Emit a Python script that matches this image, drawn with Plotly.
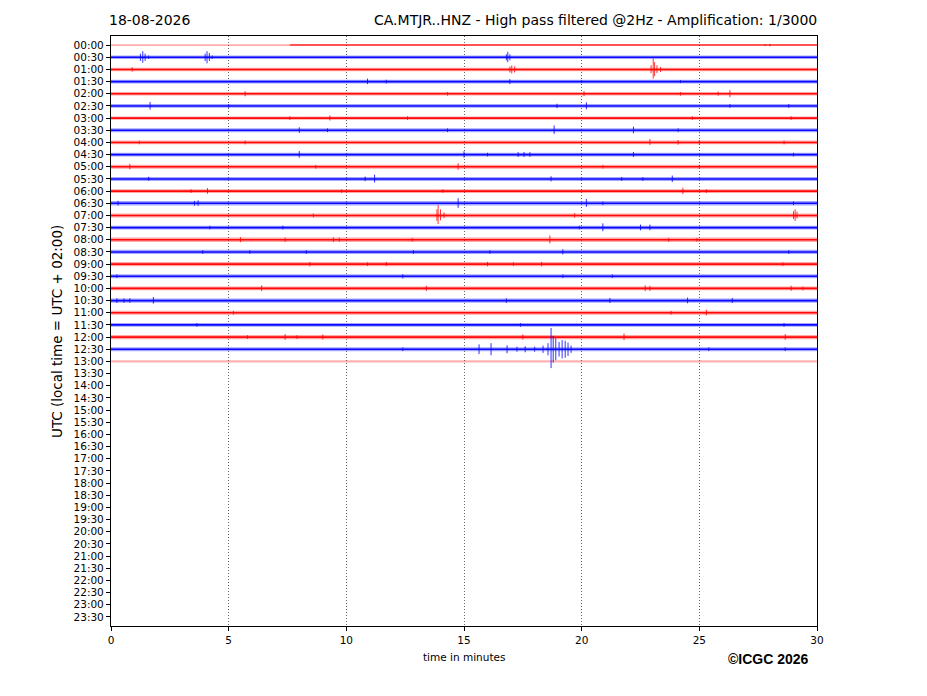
import plotly.graph_objects as go

# helicorder CA.MTJR..HNZ, one row per 30 minutes
ROW_LABELS = [
    "00:00", "00:30", "01:00", "01:30", "02:00", "02:30", "03:00", "03:30",
    "04:00", "04:30", "05:00", "05:30", "06:00", "06:30", "07:00", "07:30",
    "08:00", "08:30", "09:00", "09:30", "10:00", "10:30", "11:00", "11:30",
    "12:00", "12:30", "13:00", "13:30", "14:00", "14:30", "15:00", "15:30",
    "16:00", "16:30", "17:00", "17:30", "18:00", "18:30", "19:00", "19:30",
    "20:00", "20:30", "21:00", "21:30", "22:00", "22:30", "23:00", "23:30",
]
X_TICKS = [0, 5, 10, 15, 20, 25, 30]

# background noise segments: row, start minute, end minute, half amplitude (row units)
NOISE_ROW = [0, 0] + list(range(1, 26)) + [26]
NOISE_START = [0.0, 7.6] + [0.0] * 25 + [0.0]
NOISE_END = [7.6, 30.0] + [30.0] * 25 + [30.0]
NOISE_AMP = [0.04, 0.07] + [0.15, 0.15, 0.15, 0.15, 0.15, 0.14, 0.16, 0.15, 0.16,
                            0.16, 0.16, 0.16, 0.18, 0.16, 0.16, 0.18, 0.17, 0.18,
                            0.17, 0.16, 0.18, 0.16, 0.16, 0.17, 0.17] + [0.06]

# transient spikes per row: (minute, up, down) in row units
SPIKES = [
    [(27.8, 0.08, 0.08), (28.0, 0.1, 0.1)],
    [(1.25, 0.3, 0.3), (1.35, 0.5, 0.45), (1.45, 0.3, 0.3), (1.6, 0.15, 0.15),
     (4.0, 0.3, 0.3), (4.08, 0.5, 0.5), (4.18, 0.35, 0.3), (4.3, 0.15, 0.15),
     (16.8, 0.25, 0.25), (16.86, 0.45, 0.4), (16.95, 0.25, 0.25)],
    [(0.9, 0.18, 0.18), (16.95, 0.25, 0.25), (17.03, 0.33, 0.33), (17.15, 0.25, 0.25),
     (22.95, 0.35, 0.3), (23.04, 0.9, 0.75), (23.1, 0.6, 0.55), (23.2, 0.35, 0.3),
     (23.35, 0.2, 0.2)],
    [(10.9, 0.25, 0.2), (11.7, 0.15, 0.15), (16.95, 0.2, 0.2), (20.0, 0.12, 0.12),
     (24.2, 0.12, 0.12)],
    [(5.7, 0.22, 0.2), (14.3, 0.15, 0.15), (20.1, 0.22, 0.2), (24.2, 0.15, 0.15),
     (25.8, 0.18, 0.15), (26.3, 0.3, 0.28)],
    [(1.66, 0.33, 0.3), (5.0, 0.15, 0.15), (18.95, 0.18, 0.18), (20.2, 0.3, 0.28),
     (26.3, 0.15, 0.15), (28.8, 0.15, 0.15)],
    [(7.6, 0.15, 0.15), (9.3, 0.22, 0.2), (12.6, 0.15, 0.15), (24.7, 0.15, 0.15),
     (28.9, 0.15, 0.15)],
    [(8.0, 0.25, 0.22), (9.2, 0.15, 0.15), (14.3, 0.15, 0.15), (18.83, 0.4, 0.3),
     (22.2, 0.3, 0.25), (24.1, 0.15, 0.15)],
    [(1.2, 0.15, 0.15), (5.7, 0.15, 0.15), (22.9, 0.28, 0.2), (24.1, 0.2, 0.18),
     (25.0, 0.2, 0.18), (28.6, 0.15, 0.15)],
    [(8.0, 0.3, 0.25), (15.0, 0.28, 0.25), (16.0, 0.15, 0.15), (17.3, 0.2, 0.2),
     (17.55, 0.22, 0.2), (17.8, 0.2, 0.18), (22.2, 0.22, 0.2), (29.0, 0.15, 0.15)],
    [(0.8, 0.25, 0.22), (8.7, 0.15, 0.15), (14.75, 0.28, 0.25), (20.9, 0.15, 0.15),
     (25.0, 0.15, 0.15)],
    [(1.6, 0.18, 0.15), (10.8, 0.2, 0.18), (11.2, 0.35, 0.3), (18.7, 0.22, 0.2),
     (21.7, 0.15, 0.15), (22.6, 0.15, 0.15), (23.85, 0.28, 0.25)],
    [(3.4, 0.15, 0.15), (4.1, 0.25, 0.22), (9.8, 0.15, 0.15), (14.1, 0.15, 0.15),
     (24.3, 0.28, 0.25), (25.3, 0.15, 0.15)],
    [(0.3, 0.2, 0.18), (3.55, 0.2, 0.2), (3.7, 0.25, 0.22), (14.75, 0.42, 0.38),
     (20.2, 0.35, 0.3), (20.9, 0.15, 0.15), (29.0, 0.15, 0.15)],
    [(8.6, 0.15, 0.15), (13.85, 0.5, 0.45), (13.9, 0.85, 0.7), (14.0, 0.5, 0.4),
     (14.15, 0.25, 0.22), (19.7, 0.18, 0.18), (29.0, 0.35, 0.3), (29.07, 0.5, 0.45),
     (29.15, 0.3, 0.25)],
    [(4.2, 0.15, 0.15), (7.3, 0.15, 0.15), (19.9, 0.15, 0.15), (20.9, 0.35, 0.3),
     (22.5, 0.25, 0.22), (22.9, 0.25, 0.22)],
    [(5.5, 0.22, 0.2), (7.4, 0.18, 0.18), (9.45, 0.2, 0.18), (9.7, 0.18, 0.15),
     (12.8, 0.15, 0.15), (18.65, 0.35, 0.3), (23.7, 0.15, 0.15), (24.9, 0.15, 0.15)],
    [(3.9, 0.15, 0.15), (5.9, 0.15, 0.15), (8.3, 0.15, 0.15), (12.85, 0.15, 0.15),
     (16.1, 0.15, 0.15), (19.2, 0.22, 0.2), (28.8, 0.15, 0.15)],
    [(8.45, 0.18, 0.18), (10.9, 0.15, 0.15), (11.7, 0.18, 0.15), (16.0, 0.18, 0.18),
     (17.1, 0.15, 0.15), (18.3, 0.18, 0.18), (28.55, 0.15, 0.15)],
    [(0.25, 0.15, 0.15), (12.4, 0.18, 0.18), (19.2, 0.15, 0.15), (21.3, 0.15, 0.15)],
    [(6.4, 0.25, 0.22), (13.4, 0.22, 0.2), (22.7, 0.25, 0.22), (22.9, 0.22, 0.2),
     (28.9, 0.22, 0.2), (29.4, 0.15, 0.15)],
    [(0.25, 0.2, 0.2), (0.55, 0.18, 0.18), (0.8, 0.2, 0.18), (1.8, 0.3, 0.25),
     (16.8, 0.18, 0.18), (21.2, 0.22, 0.2), (24.5, 0.25, 0.22), (26.4, 0.22, 0.2)],
    [(5.2, 0.15, 0.15), (23.8, 0.15, 0.15), (25.3, 0.25, 0.22)],
    [(3.65, 0.15, 0.15), (17.4, 0.15, 0.15), (28.6, 0.15, 0.15)],
    [(5.8, 0.15, 0.15), (7.4, 0.25, 0.22), (7.9, 0.15, 0.15), (9.0, 0.22, 0.2),
     (17.5, 0.22, 0.2), (21.8, 0.3, 0.25), (28.65, 0.25, 0.22)],
    [(12.4, 0.15, 0.15), (15.64, 0.4, 0.4), (16.15, 0.5, 0.5), (16.83, 0.33, 0.33),
     (17.25, 0.2, 0.2), (17.6, 0.25, 0.25), (18.0, 0.2, 0.2), (18.36, 0.3, 0.3),
     (18.57, 0.5, 0.5), (18.7, 1.75, 1.55), (18.79, 1.1, 1.1), (18.9, 0.9, 0.9),
     (19.04, 0.6, 0.6), (19.17, 0.75, 0.75), (19.3, 0.7, 0.7), (19.42, 0.55, 0.55),
     (19.55, 0.3, 0.3), (25.4, 0.15, 0.15), (28.65, 0.15, 0.15)],
    [],
]

RED = "#ff0000"
BLUE = "#0000ff"
FONT = "DejaVu Sans"


def row_color(row):
    return RED if row % 2 == 0 else BLUE


def rgba(hex_color, alpha):
    h = hex_color.lstrip("#")
    r, g, b = int(h[0:2], 16), int(h[2:4], 16), int(h[4:6], 16)
    return f"rgba({r},{g},{b},{alpha})"


fig = go.Figure()

for color in (RED, BLUE):
    band_x, band_y = [], []
    for row, t0, t1, amp in zip(NOISE_ROW, NOISE_START, NOISE_END, NOISE_AMP):
        if row_color(row) != color or amp < 0.1:
            continue
        band_x += [t0, t1, t1, t0, t0, None]
        band_y += [row - amp, row - amp, row + amp, row + amp, row - amp, None]
    fig.add_trace(go.Scatter(
        x=band_x, y=band_y, mode="lines", fill="toself",
        fillcolor=rgba(color, 0.35), line=dict(width=0),
        hoverinfo="skip", showlegend=False,
    ))

    # center line of each noise segment, quiet segments drawn paler
    for row, t0, t1, amp in zip(NOISE_ROW, NOISE_START, NOISE_END, NOISE_AMP):
        if row_color(row) != color:
            continue
        if amp < 0.05:
            line = dict(color=rgba(color, 0.45), width=1.3)
        elif amp < 0.065:
            line = dict(color=rgba(color, 0.3), width=2.2)
        elif amp < 0.1:
            line = dict(color=rgba(color, 0.9), width=1.5)
        else:
            line = dict(color=rgba(color, 0.95), width=1.6)
        fig.add_trace(go.Scatter(
            x=[t0, t1], y=[row, row], mode="lines", line=line,
            hoverinfo="skip", showlegend=False,
        ))

    spike_x, spike_y = [], []
    for row, spikes in enumerate(SPIKES):
        if row_color(row) != color:
            continue
        for t, up, down in spikes:
            spike_x += [t, t, None]
            spike_y += [row - up, row + down, None]
    fig.add_trace(go.Scatter(
        x=spike_x, y=spike_y, mode="lines",
        line=dict(color=rgba(color, 0.8), width=1),
        hoverinfo="skip", showlegend=False,
    ))

# page body has an 8px margin, so the figure is 8px smaller on each side
fig.update_layout(
    width=919,
    height=688,
    margin=dict(l=103, r=110, t=28, b=70),
    paper_bgcolor="white",
    plot_bgcolor="white",
    font=dict(family=FONT, size=10.5, color="black"),
    showlegend=False,
    xaxis=dict(
        range=[0, 30],
        tickvals=X_TICKS,
        ticks="outside",
        ticklen=4,
        tickcolor="black",
        showline=True,
        mirror=True,
        linecolor="black",
        linewidth=1.2,
        showgrid=True,
        gridcolor="#666666",
        gridwidth=0.8,
        griddash="1px,2px",
        zeroline=False,
    ),
    yaxis=dict(
        range=[len(ROW_LABELS) - 0.25, -0.75],
        tickvals=list(range(len(ROW_LABELS))),
        ticktext=ROW_LABELS,
        ticks="outside",
        ticklen=4,
        tickcolor="black",
        showline=True,
        mirror=True,
        linecolor="black",
        linewidth=1.2,
        showgrid=False,
        zeroline=False,
    ),
    annotations=[
        dict(text="18-08-2026", xref="paper", yref="paper", x=-0.006, y=1.027,
             xanchor="left", yanchor="middle", showarrow=False,
             font=dict(family=FONT, size=14)),
        dict(text="CA.MTJR..HNZ - High pass filtered @2Hz - Amplification: 1/3000",
             xref="paper", yref="paper", x=1.003, y=1.027,
             xanchor="right", yanchor="middle", showarrow=False,
             font=dict(family=FONT, size=14)),
        dict(text="UTC (local time = UTC + 02:00)", xref="paper", yref="paper",
             x=-0.0765, y=0.5, xanchor="center", yanchor="middle", textangle=-90,
             showarrow=False, font=dict(family=FONT, size=13.5)),
        dict(text="time in minutes", xref="paper", yref="paper", x=0.5, y=-0.0525,
             xanchor="center", yanchor="middle", showarrow=False,
             font=dict(family=FONT, size=10.5)),
        dict(text="<b>©ICGC 2026</b>", xref="paper", yref="paper", x=0.9915, y=-0.056,
             xanchor="right", yanchor="middle", showarrow=False,
             font=dict(family="Liberation Sans", size=14)),
    ],
)

fig.write_html("out.html")
